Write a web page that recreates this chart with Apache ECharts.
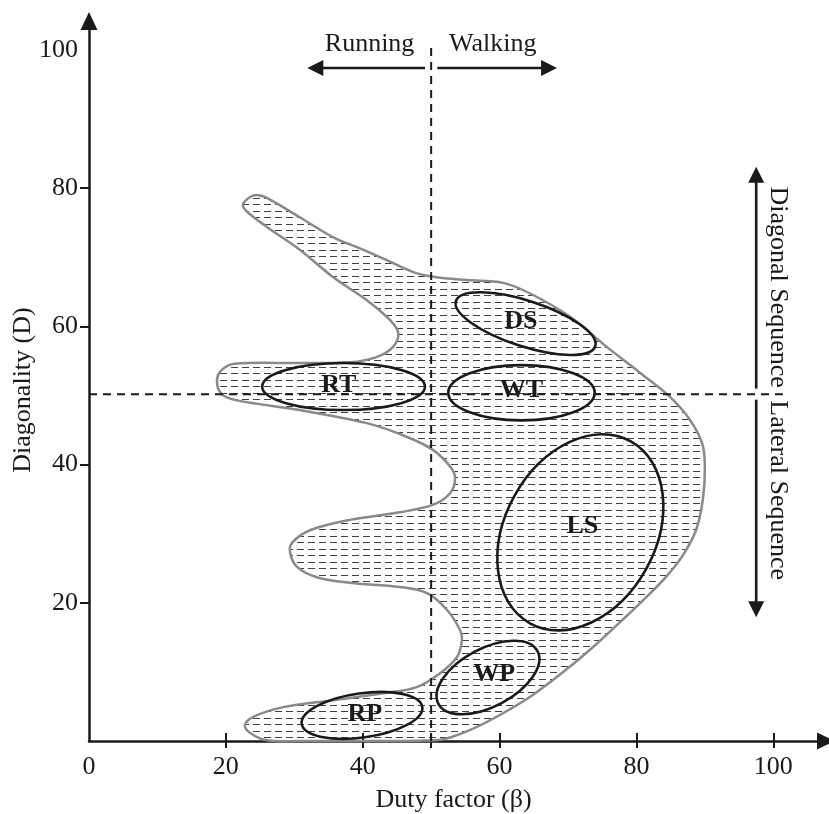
<!DOCTYPE html>
<html>
<head>
<meta charset="utf-8">
<script src="https://cdn.jsdelivr.net/npm/echarts@6/dist/echarts.min.js"></script>
<style>html,body{margin:0;padding:0;background:#fff}#c{width:829px;height:814px}</style>
</head>
<body>
<div id="c"></div>
<script>
// ---------- axis ticks ----------
const xTickLabels = [0, 20, 40, 60, 80, 100];
const xTickMarks = [20, 40, 50, 60, 80, 100];
const yTickLabels = [20, 40, 60, 80, 100];
const yTickMarks = [20, 40, 60, 80];

// ---------- shaded gait region outline (duty factor, diagonality) ----------
const outlineX = [23.5, 24.7, 26.0, 30.8, 35.7, 39.6, 43.5, 47.3, 50.3, 55.2, 60.5, 64.4, 70.3, 75.7, 80.5, 84.9, 87.8, 89.6, 90.0, 89.7,
  88.7, 86.8, 84.2, 81.0, 77.6, 74.0, 69.7, 64.9, 60.1, 55.7, 52.0, 48.4, 30.8, 26.0, 23.5, 22.8, 24.0, 28.4, 35.7, 43.0, 47.9,
  51.3, 53.8, 54.5, 54.2, 52.3, 49.4, 45.4, 38.1, 33.3, 30.4, 29.4, 29.7, 32.3, 38.1, 45.4, 50.3, 52.8, 53.5, 52.8, 50.3,
  46.5, 40.6, 30.8, 21.6, 19.4, 18.7, 19.4, 21.3, 30.8, 38.1, 42.1, 44.4, 45.2, 44.0, 40.6, 35.7, 30.8, 26.0, 23.1, 22.5];
const outlineY = [78.7, 79.0, 78.6, 75.8, 72.9, 71.3, 69.6, 67.9, 67.2, 66.7, 66.3, 64.8, 61.4, 57.0, 53.3, 49.8, 46.5, 43.1, 39.7, 34.9,
  30.5, 26.9, 23.6, 20.4, 17.2, 13.9, 10.3, 6.7, 3.8, 1.6, 0.3, 0.05, 0.0, 0.1, 1.2, 2.3, 3.5, 4.9, 5.9, 6.9, 7.8,
  9.8, 12.2, 14.6, 16.1, 19.0, 21.4, 22.3, 22.9, 23.7, 25.2, 27.2, 28.7, 30.5, 32.0, 33.1, 34.2, 35.9, 38.1, 39.7, 42.1,
  44.0, 46.0, 47.9, 49.3, 50.2, 52.1, 53.7, 54.6, 54.7, 54.8, 55.6, 57.0, 59.0, 60.9, 63.8, 67.1, 71.1, 74.4, 76.6, 77.6];

// ---------- gait clusters (ellipses) ----------
const regionNames = ['RT', 'WT', 'DS', 'LS', 'WP', 'RP'];
const regionCx = [37.2, 63.2, 63.8, 71.8, 58.3, 39.9];
const regionCy = [51.3, 50.4, 60.4, 30.2, 9.2, 3.7];
const regionRx = [11.9, 10.7, 10.7, 15.2, 8.2, 8.9];
const regionRy = [3.4, 4.0, 3.3, 10.9, 4.2, 3.2];
const regionAngle = [0, 0, -18, 61, 28, 8];
const labelX = [36.5, 63.2, 63.1, 72.1, 59.2, 40.3];
const labelY = [51.5, 50.7, 60.8, 31.1, 9.7, 3.9];

// ---------- dividing lines ----------
const gaitDivideX = 50;   // running | walking
const seqDivideY = 50.2;  // diagonal | lateral
const guideFrom = [[gaitDivideX, 100.3], [0, seqDivideY]];
const guideTo = [[gaitDivideX, 0], [101.4, seqDivideY]];

// ---------- annotation arrows & texts ----------
const arrowFrom = [[49.1, 97.4], [50.9, 97.4], [97.5, 51.0], [97.5, 49.4]];
const arrowTip = [[31.9, 97.4], [68.4, 97.4], [97.5, 83.1], [97.5, 17.9]];
const noteTexts = ['Running', 'Walking', 'Diagonal Sequence', 'Lateral Sequence'];
const noteX = [41.0, 59.0, 100.6, 100.6];
const noteY = [100.8, 100.8, 51.1, 49.3];
const noteAlign = ['center', 'center', 'right', 'left'];
const noteRotate = [0, 0, -90, -90];

const INK = '#1a1a1a';
const SERIF = '"Liberation Serif", "Times New Roman", serif';

function makePattern() {
  const c = document.createElement('canvas');
  c.width = 11; c.height = 13;
  const g = c.getContext('2d');
  g.strokeStyle = '#404040';
  g.lineWidth = 1;
  g.beginPath();
  g.moveTo(0, 3.5); g.lineTo(7, 3.5);
  g.moveTo(0, 9.5); g.lineTo(7, 9.5);
  g.stroke();
  return c;
}
const pattern = makePattern();

// closed smooth path through the outline points (cubic Bezier segments)
function smoothClosedPath(pts, k) {
  const n = pts.length;
  const tan = pts.map((p, i) => {
    const a = pts[(i - 1 + n) % n], b = pts[(i + 1) % n];
    const dx = b[0] - a[0], dy = b[1] - a[1];
    const l = Math.sqrt(dx * dx + dy * dy) || 1;
    return [dx / l, dy / l];
  });
  let d = 'M' + pts[0][0].toFixed(2) + ' ' + pts[0][1].toFixed(2);
  for (let i = 0; i < n; i++) {
    const p = pts[i], q = pts[(i + 1) % n];
    const len = Math.sqrt((q[0] - p[0]) ** 2 + (q[1] - p[1]) ** 2);
    const t0 = tan[i], t1 = tan[(i + 1) % n];
    const c1 = [p[0] + t0[0] * len * k, p[1] + t0[1] * len * k];
    const c2 = [q[0] - t1[0] * len * k, q[1] - t1[1] * len * k];
    d += ' C' + c1[0].toFixed(2) + ' ' + c1[1].toFixed(2) + ' ' + c2[0].toFixed(2) + ' ' + c2[1].toFixed(2) + ' ' + q[0].toFixed(2) + ' ' + q[1].toFixed(2);
  }
  return d + ' Z';
}

const chart = echarts.init(document.getElementById('c'), null, { renderer: 'canvas' });

const axisLineStyle = { color: INK, width: 2.5 };
const labelStyle = { fontFamily: SERIF, fontSize: 26, color: INK };

const option = {
  animation: false,
  backgroundColor: '#fff',
  grid: { left: 89, right: 3, top: 21, bottom: 73, containLabel: false, outerBoundsMode: 'none' },
  xAxis: [{
    type: 'value', min: 0, max: 107.7, interval: 20,
    axisLine: { show: true, lineStyle: axisLineStyle, symbol: ['none', 'triangle'], symbolSize: [17, 18] },
    axisTick: { show: true, customValues: xTickMarks, length: 7, lineStyle: { color: INK, width: 2 } },
    axisLabel: Object.assign({ customValues: xTickLabels, margin: 13 }, labelStyle),
    splitLine: { show: false },
    name: 'Duty factor (β)', nameLocation: 'middle', nameGap: 46, nameMoveOverlap: false,
    nameTextStyle: { fontFamily: SERIF, fontSize: 26, color: INK, padding: [0, 8, 0, 0] }
  }, {
    type: 'value', min: 0, max: 107.7, interval: 20, position: 'bottom',
    axisLine: { show: false },
    axisTick: { show: true, inside: true, customValues: xTickMarks, length: 8, lineStyle: { color: INK, width: 2 } },
    axisLabel: { show: false },
    splitLine: { show: false }
  }],
  yAxis: [{
    type: 'value', min: 0, max: 104.2, interval: 20,
    axisLine: { show: true, lineStyle: axisLineStyle, symbol: ['none', 'triangle'], symbolSize: [17, 18] },
    axisTick: { show: true, customValues: yTickMarks, length: 9, lineStyle: { color: INK, width: 2 } },
    axisLabel: Object.assign({ customValues: yTickLabels, margin: 11 }, labelStyle),
    splitLine: { show: false },
    name: 'Diagonality (D)', nameLocation: 'middle', nameGap: 53, nameMoveOverlap: false,
    nameTextStyle: { fontFamily: SERIF, fontSize: 26, color: INK, padding: [0, 18, 0, 0] }
  }],
  series: [
    {
      type: 'custom', name: 'region', silent: true, z: 1,
      data: [[0, 0]],
      renderItem: function (params, api) {
        const pts = outlineX.map((x, i) => api.coord([x, outlineY[i]]));
        return {
          type: 'path',
          shape: { pathData: smoothClosedPath(pts, 0.34) },
          style: { fill: { image: pattern, repeat: 'repeat' }, stroke: '#8a8a8a', lineWidth: 2.5 }
        };
      }
    },
    {
      type: 'custom', name: 'guides', silent: true, z: 2,
      data: guideFrom.map((f, i) => [f[0], f[1], guideTo[i][0], guideTo[i][1]]),
      renderItem: function (params, api) {
        const a = api.coord([api.value(0), api.value(1)]);
        const b = api.coord([api.value(2), api.value(3)]);
        return {
          type: 'line',
          shape: { x1: a[0], y1: a[1], x2: b[0], y2: b[1] },
          style: { stroke: INK, lineWidth: 2, lineDash: [8, 6] }
        };
      }
    },
    {
      type: 'custom', name: 'clusters', silent: true, z: 3,
      data: regionNames.map((n, i) => [regionCx[i], regionCy[i], regionRx[i], regionRy[i], regionAngle[i]]),
      renderItem: function (params, api) {
        const c = api.coord([api.value(0), api.value(1)]);
        const s = api.size([api.value(2), api.value(3)]);
        return {
          type: 'ellipse',
          x: c[0], y: c[1], rotation: api.value(4) * Math.PI / 180,
          shape: { cx: 0, cy: 0, rx: s[0], ry: s[1] },
          style: { fill: 'none', stroke: INK, lineWidth: 2.6 }
        };
      }
    },
    {
      type: 'custom', name: 'clusterLabels', silent: true, z: 4,
      data: regionNames.map((n, i) => [labelX[i], labelY[i], i]),
      renderItem: function (params, api) {
        const c = api.coord([api.value(0), api.value(1)]);
        return {
          type: 'text', x: c[0], y: c[1],
          style: { text: regionNames[api.value(2)], font: 'bold 26px ' + SERIF, fill: INK, align: 'center', verticalAlign: 'middle' }
        };
      }
    },
    {
      type: 'custom', name: 'arrows', silent: true, z: 4,
      data: arrowFrom.map((f, i) => [f[0], f[1], arrowTip[i][0], arrowTip[i][1]]),
      renderItem: function (params, api) {
        const a = api.coord([api.value(0), api.value(1)]);
        const t = api.coord([api.value(2), api.value(3)]);
        const dx = t[0] - a[0], dy = t[1] - a[1];
        const len = Math.sqrt(dx * dx + dy * dy);
        const ux = dx / len, uy = dy / len;
        const hl = 16, hw = 8;
        const bx = t[0] - ux * hl, by = t[1] - uy * hl;
        return {
          type: 'group',
          children: [
            { type: 'line', shape: { x1: a[0], y1: a[1], x2: bx + ux * 2, y2: by + uy * 2 }, style: { stroke: INK, lineWidth: 2.6 } },
            { type: 'polygon', shape: { points: [[t[0], t[1]], [bx - uy * hw, by + ux * hw], [bx + uy * hw, by - ux * hw]] }, style: { fill: INK } }
          ]
        };
      }
    },
    {
      type: 'custom', name: 'notes', silent: true, z: 4,
      data: noteTexts.map((n, i) => [noteX[i], noteY[i], i]),
      renderItem: function (params, api) {
        const i = api.value(2);
        const c = api.coord([api.value(0), api.value(1)]);
        return {
          type: 'text', x: c[0], y: c[1], rotation: noteRotate[i] * Math.PI / 180,
          style: { text: noteTexts[i], font: '26px ' + SERIF, fill: INK, align: noteAlign[i], verticalAlign: 'middle' }
        };
      }
    }
  ]
};
chart.setOption(option);
</script>
</body>
</html>
